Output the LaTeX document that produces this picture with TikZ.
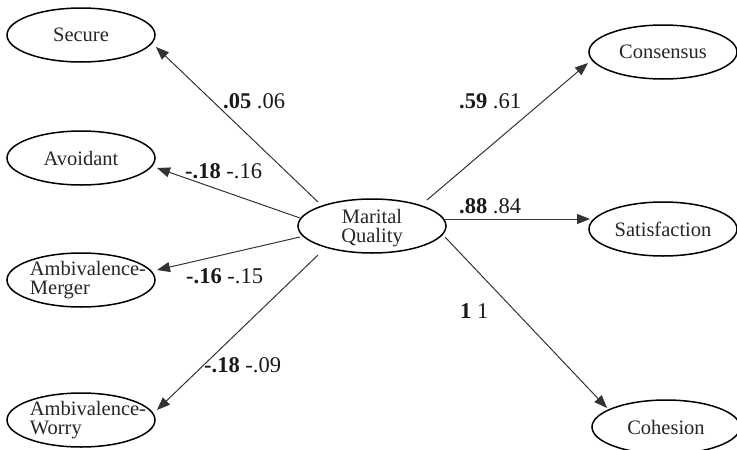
\documentclass[tikz,border=0pt]{standalone}
\usepackage{fontspec}
\setmainfont{Liberation Serif}
\usetikzlibrary{shapes.geometric, arrows.meta}
\begin{document}
\begin{tikzpicture}[x=1pt, y=-1pt,
  oval/.style={draw=black, line width=1.5pt, ellipse, minimum width=148pt,
    minimum height=54pt, inner sep=0pt},
  nodetext/.style={font=\fontsize{20.5}{18.5}\selectfont, text=black!85, inner sep=0pt},
  coef/.style={font=\fontsize{22.5}{24}\selectfont, inner sep=0pt,
    anchor=base west, text=black!90},
  link/.style={draw=black!80, line width=1pt,
    -{Triangle[length=13pt,width=10pt]}}
]
\useasboundingbox (0,0) rectangle (737,450);
\clip (0,0) rectangle (737,450);

% latent factor and its indicators
\node[oval, label={[nodetext, align=center, yshift=-2pt]center:{Marital\\Quality}}] (mq) at (372,226) {};

\node[oval, label={[nodetext]center:Secure}] (secure) at (81,35) {};
\node[oval, label={[nodetext]center:Avoidant}] (avoid) at (81,158) {};
\node[oval, label={[nodetext, align=left, xshift=7pt]center:{Ambivalence-\\Merger}}] (merger) at (81,280) {};
\node[oval, label={[nodetext, align=left, xshift=7pt]center:{Ambivalence-\\Worry}}] (worry) at (81,420) {};

\node[oval, label={[nodetext]center:Consensus}] (cons) at (663,52) {};
\node[oval, label={[nodetext]center:Satisfaction}] (sat) at (663,229) {};
\node[oval, label={[nodetext]center:Cohesion}] (coh) at (666,427) {};

% paths from the factor
\draw[link] ([shift={(-54,-24)}]mq.center) -- ([shift={(75,12)}]secure.center);
\draw[link] ([shift={(-72,-8)}]mq.center) -- ([shift={(76,10)}]avoid.center);
\draw[link] ([shift={(-72,11)}]mq.center) -- ([shift={(76,-10)}]merger.center);
\draw[link] ([shift={(-54,29)}]mq.center) -- ([shift={(76,-10)}]worry.center);
\draw[link] ([shift={(55,-26)}]mq.center) -- ([shift={(-75,11)}]cons.center);
\draw[link] ([shift={(73,-7)}]mq.center) -- ([shift={(-73,-10)}]sat.center);
\draw[link] ([shift={(73,11)}]mq.center) -- ([shift={(-59,-19)}]coh.center);

% path coefficients
\node[coef] (c1) at (223,108) {\textbf{.05} .06};
\node[coef] (c2) at (185,178) {\textbf{-.18} -.16};
\node[coef] (c3) at (186,283) {\textbf{-.16} -.15};
\node[coef] (c4) at (204,372) {\textbf{-.18} -.09};
\node[coef] (c5) at (459,108) {\textbf{.59} .61};
\node[coef] (c6) at (459,213) {\textbf{.88} .84};
\node[coef] (c7) at (460,318) {\textbf{1} 1};
\end{tikzpicture}
\end{document}
